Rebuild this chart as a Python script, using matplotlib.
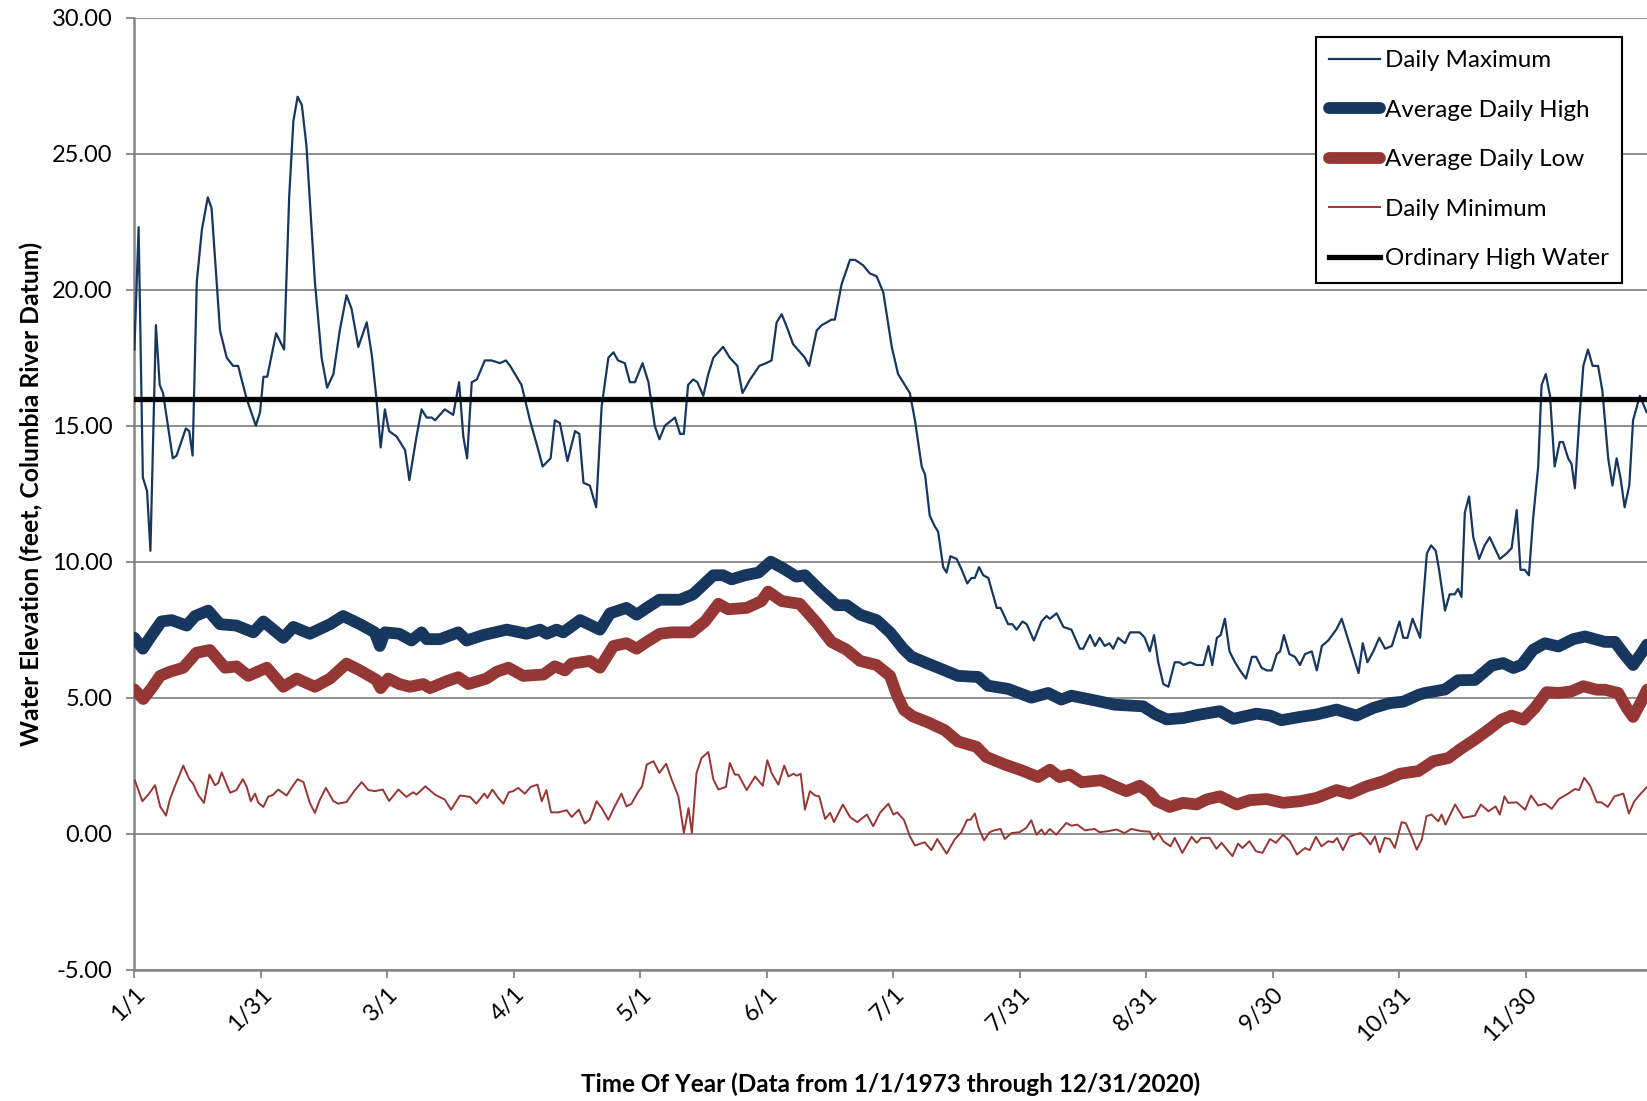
import numpy as np
import matplotlib
matplotlib.use("Agg")
import matplotlib.pyplot as plt

plt.rcParams['font.family'] = ['Lato', 'DejaVu Sans']

# day of year (0 = 1/1) and water elevation
max_days = [0, 1, 2, 3, 3.8, 5.1, 6, 6.8, 9.1, 10, 12.2, 13, 13.8, 14.8, 16, 17.4, 18.3, 20.3, 21.9, 23.4,
            24.6, 26.6, 28.8, 29.8, 30.6, 31.5, 33.6, 35.5, 36.7, 37.7, 38.7, 39.7, 40.8, 42.8, 44.4, 45.7, 47.2, 48.7, 50.3, 51.5,
            53.1, 55.1, 56.3, 57.4, 58.4, 59.4, 60.4, 62.2, 64.2, 65.2, 66.9, 68.1, 69.3, 70.5, 71.3, 73.6, 75.6, 77, 78, 78.9,
            80, 81.2, 83.1, 84.7, 86.7, 88.1, 89.1, 91.8, 93.8, 95.8, 96.8, 98.7, 99.7, 100.9, 102.7, 104.5, 105.5, 106.5, 108, 109.5,
            110.8, 112.4, 113.6, 114.7, 116.3, 117.5, 118.7, 120.5, 121.9, 123.4, 124.5, 125.8, 128.2, 129.4, 130.3, 131.3, 132.5, 133.5, 134.9, 136.1,
            137.3, 139.6, 141.2, 143, 144.2, 146, 148.2, 149.8, 151.1, 152.3, 153.5, 154.8, 156.2, 159, 160, 161.8, 163, 164.2, 165.3, 166.1,
            167.7, 169.7, 170.9, 172.8, 174.4, 176, 177.6, 179.6, 181.1, 182.7, 183.9, 185.1, 186.7, 187.5, 188.6, 189.8, 190.6, 191.8, 192.6, 193.5,
            195, 196.2, 197.5, 198.5, 199.3, 200.3, 201.3, 202.5, 204.5, 205.4, 207.2, 208.2, 209.2, 210.6, 211.6, 213.3, 215.1, 216.3, 217.1, 218.7,
            220.3, 222.2, 224.2, 225, 226.6, 227.8, 228.9, 230.1, 231.2, 232.1, 233.3, 234.9, 236.1, 238.4, 239.6, 240.8, 241.8, 242.8, 244, 245.2,
            246.7, 247.8, 248.8, 250.3, 251.9, 253.5, 254.7, 255.6, 256.7, 257.6, 258.6, 259.7, 261, 262.2, 263.6, 265, 266, 267.3, 268.5, 269.7,
            270.9, 271.7, 272.6, 273.9, 275.2, 276.4, 277.6, 279.2, 280.4, 281.6, 283.1, 285, 286.3, 287.5, 288.7, 290.3, 291.3, 292.4, 293.8, 295.2,
            296.6, 298.2, 300, 300.9, 301.9, 303.1, 304.9, 306.5, 307.5, 308.6, 309.4, 310.8, 311.9, 313.1, 313.9, 314.7, 315.5, 316.5, 317.5, 318.9,
            320.2, 321.4, 322.6, 323.8, 325.4, 326.6, 327.8, 328.7, 329.7, 330.7, 331.7, 332.9, 333.7, 334.7, 335.7, 336.8, 338, 338.8, 340, 340.8,
            341.6, 342.6, 343.6, 344.7, 345.8, 347.1, 348.1, 349.5, 350.5, 351.5, 352.4, 353.4, 354.5, 355.4, 357, 358.6]
max_vals = [17.8, 22.3, 13.1, 12.6, 10.4, 18.7, 16.5, 16.2, 13.8, 13.9, 14.9, 14.8, 13.9, 20.3, 22.2, 23.4, 23.0, 18.5, 17.5, 17.2,
            17.2, 16.0, 15.0, 15.5, 16.8, 16.8, 18.4, 17.8, 23.4, 26.2, 27.1, 26.8, 25.3, 20.3, 17.5, 16.4, 16.9, 18.5, 19.8, 19.3,
            17.9, 18.8, 17.6, 16.0, 14.2, 15.6, 14.8, 14.6, 14.1, 13.0, 14.6, 15.6, 15.3, 15.3, 15.2, 15.6, 15.4, 16.6, 14.6, 13.8,
            16.6, 16.7, 17.4, 17.4, 17.3, 17.4, 17.2, 16.5, 15.2, 14.1, 13.5, 13.8, 15.2, 15.1, 13.7, 14.8, 14.7, 12.9, 12.8, 12.0,
            15.7, 17.5, 17.7, 17.4, 17.3, 16.6, 16.6, 17.3, 16.6, 15.0, 14.5, 15.0, 15.3, 14.7, 14.7, 16.5, 16.7, 16.6, 16.1, 16.9,
            17.5, 17.9, 17.5, 17.2, 16.2, 16.7, 17.2, 17.3, 17.4, 18.8, 19.1, 18.6, 18.0, 17.5, 17.2, 18.5, 18.7, 18.8, 18.9, 18.9,
            20.2, 21.1, 21.1, 20.9, 20.6, 20.5, 19.9, 17.9, 16.9, 16.5, 16.2, 15.2, 13.5, 13.2, 11.7, 11.3, 11.1, 9.8, 9.6, 10.2,
            10.1, 9.7, 9.2, 9.4, 9.4, 9.8, 9.5, 9.4, 8.3, 8.3, 7.7, 7.7, 7.5, 7.8, 7.7, 7.1, 7.8, 8.0, 7.9, 8.1,
            7.6, 7.5, 6.8, 6.8, 7.3, 6.9, 7.2, 6.9, 7.0, 6.8, 7.2, 7.0, 7.4, 7.4, 7.2, 6.7, 7.3, 6.3, 5.5, 5.4,
            6.3, 6.3, 6.2, 6.3, 6.2, 6.2, 6.9, 6.2, 7.2, 7.3, 7.9, 6.7, 6.3, 6.0, 5.7, 6.5, 6.5, 6.1, 6.0, 6.0,
            6.6, 6.7, 7.3, 6.6, 6.5, 6.2, 6.6, 6.7, 6.0, 6.9, 7.1, 7.5, 7.9, 7.3, 6.7, 5.9, 7.0, 6.3, 6.7, 7.2,
            6.8, 6.9, 7.8, 7.2, 7.2, 7.9, 7.2, 10.3, 10.6, 10.4, 9.7, 8.2, 8.8, 8.8, 9.0, 8.7, 11.8, 12.4, 10.9, 10.1,
            10.6, 10.9, 10.5, 10.1, 10.3, 10.5, 11.9, 9.7, 9.7, 9.5, 11.6, 13.5, 16.5, 16.9, 16.1, 13.5, 14.4, 14.4, 13.8, 13.6,
            12.7, 15.1, 17.2, 17.8, 17.2, 17.2, 16.3, 13.8, 12.8, 13.8, 13.1, 12.0, 12.8, 15.2, 16.1, 15.5]

high_days = [0, 2, 3.7, 6.4, 8.8, 12.4, 14.4, 17.5, 20.3, 24.2, 28.2, 30.6, 35.3, 37.7, 41.6, 46.4, 49.5, 53.5, 57, 58.2,
             59.4, 62.8, 65.7, 68.1, 69.3, 72.5, 76.8, 78.8, 82.7, 88.3, 93, 96.2, 97.8, 100.1, 101.7, 105.7, 110.4, 112.8, 116.7, 119.1,
             121.5, 124.5, 129.4, 132.5, 137.3, 139.6, 141.6, 144.8, 148, 150.9, 153.9, 157, 159, 162.6, 166.5, 168.9, 172.1, 176, 179.2, 182.3,
             184.3, 188.2, 191.4, 195.3, 200.1, 202.4, 207.2, 212.7, 216.7, 219.8, 222.2, 227.7, 232.5, 239.2, 242, 244.8, 248.7, 252.7, 257.4, 260.6,
             266.1, 269.3, 272, 276.4, 280.3, 285.1, 289.8, 293.8, 297.7, 300.9, 304.5, 306, 310.8, 313.9, 317.9, 321.9, 324.6, 327, 329, 331.7,
             334.5, 337.7, 341.2, 344, 348.7, 351.1, 353.5, 355.4, 357.4, 358.7]
high_vals = [7.2, 6.8, 7.2, 7.8, 7.85, 7.65, 8.0, 8.2, 7.7, 7.65, 7.4, 7.8, 7.2, 7.6, 7.35, 7.7, 8.0, 7.7, 7.4, 6.9,
             7.4, 7.35, 7.1, 7.4, 7.15, 7.15, 7.4, 7.1, 7.3, 7.5, 7.35, 7.5, 7.35, 7.5, 7.4, 7.85, 7.5, 8.1, 8.3, 8.05,
             8.3, 8.6, 8.6, 8.8, 9.5, 9.5, 9.35, 9.5, 9.6, 10.0, 9.75, 9.45, 9.5, 8.95, 8.4, 8.4, 8.05, 7.85, 7.4, 6.8,
             6.5, 6.25, 6.05, 5.8, 5.76, 5.44, 5.32, 5.0, 5.17, 4.93, 5.07, 4.9, 4.74, 4.68, 4.4, 4.2, 4.25, 4.38, 4.5, 4.22,
             4.41, 4.34, 4.17, 4.29, 4.38, 4.56, 4.34, 4.62, 4.8, 4.85, 5.1, 5.17, 5.3, 5.64, 5.65, 6.18, 6.27, 6.09, 6.21, 6.76,
             7.0, 6.88, 7.15, 7.25, 7.05, 7.05, 6.55, 6.2, 6.64, 6.95]

low_days = [0, 2.1, 4.1, 6.1, 8.4, 11.6, 14.7, 17.9, 21.5, 24.2, 27, 31.4, 35.3, 38.5, 42.8, 46.4, 50.3, 53.5, 57.4, 58.4,
            60.2, 62.8, 65.3, 68.5, 70.1, 74, 76.8, 79.2, 83.5, 85.9, 88.7, 92.2, 97, 99.7, 102.1, 103.7, 108, 110.4, 113.6, 116.7,
            119.1, 121.5, 124.6, 127.4, 132.1, 135.3, 138.5, 140.8, 145.2, 148.7, 150.3, 153.5, 157.8, 161.8, 165.3, 168.9, 172.1, 176, 179.2, 180.8,
            182.5, 184.6, 188.2, 192.2, 195.3, 199.7, 202, 206.4, 210.3, 214.3, 217.1, 219.4, 221.8, 224.6, 229.3, 232.5, 235.2, 238.4, 240.8, 242.4,
            245.5, 248.7, 251.9, 254.2, 257.4, 261.4, 264.5, 268.5, 272.4, 276.4, 280.3, 285.1, 288.2, 292.2, 296.1, 300.1, 304.5, 308, 311.6, 314.3,
            317.9, 321.1, 324.2, 326.6, 329.4, 332.1, 334.9, 337.7, 340.8, 343.6, 346.8, 348.7, 351.9, 353.9, 355.4, 357.4, 358.7]
low_vals = [5.3, 4.95, 5.35, 5.8, 5.95, 6.1, 6.65, 6.75, 6.1, 6.15, 5.8, 6.1, 5.4, 5.7, 5.4, 5.7, 6.25, 6.0, 5.65, 5.35,
            5.7, 5.5, 5.4, 5.5, 5.35, 5.6, 5.75, 5.5, 5.7, 5.95, 6.1, 5.8, 5.85, 6.15, 6.0, 6.25, 6.35, 6.1, 6.9, 7.0,
            6.8, 7.05, 7.35, 7.4, 7.4, 7.8, 8.45, 8.25, 8.3, 8.55, 8.9, 8.55, 8.45, 7.75, 7.05, 6.76, 6.35, 6.2, 5.8, 5.1,
            4.55, 4.31, 4.09, 3.8, 3.39, 3.19, 2.82, 2.54, 2.33, 2.08, 2.35, 2.08, 2.17, 1.89, 1.96, 1.74, 1.56, 1.76, 1.5, 1.2,
            0.98, 1.13, 1.07, 1.25, 1.37, 1.07, 1.23, 1.27, 1.13, 1.19, 1.31, 1.6, 1.47, 1.74, 1.92, 2.2, 2.3, 2.66, 2.78, 3.09,
            3.46, 3.82, 4.19, 4.34, 4.19, 4.62, 5.2, 5.17, 5.23, 5.42, 5.29, 5.29, 5.17, 4.62, 4.29, 4.87, 5.29]

min_days = [0.1, 1.9, 3.3, 4.9, 6.1, 7.5, 8.4, 9.6, 11.6, 13, 13.9, 15.1, 16.5, 17.8, 19.1, 19.9, 20.7, 22.7, 24.2, 25.7,
            26.6, 27.6, 28.6, 29.4, 30.6, 31.7, 32.9, 34.1, 36.1, 37.5, 38.7, 40.1, 41.6, 42.8, 44, 45.4, 47.2, 48.4, 50.3, 52.1,
            53.9, 55.5, 57, 58.9, 60.4, 62.6, 64.5, 66.1, 66.9, 69, 71.3, 73.6, 75.1, 77.2, 79.6, 81.1, 83, 83.7, 84.9, 86.3,
            87.5, 88.8, 89.8, 91, 92.6, 94, 95.6, 96.6, 97.7, 98.8, 100.5, 102.5, 103.7, 105.4, 106.8, 108, 109.6, 110.8, 112.4, 113.9,
            115.5, 116.7, 117.9, 119.3, 120.4, 121.5, 123.1, 124.5, 126.1, 127.4, 129, 130.3, 131.4, 132.2, 133.3, 134.5, 136.1, 137.3, 138.5, 140.3,
            141.2, 142.4, 143.2, 145.2, 147.2, 149, 150.1, 151.1, 152.7, 154.1, 155.1, 156.3, 157.1, 158, 159, 160.2, 161.4, 162.4, 163.8, 165,
            165.9, 168, 169.7, 171.4, 173.7, 175.2, 176.8, 178.8, 180, 180.9, 182.5, 183.9, 185.1, 187.4, 189, 190.4, 192.6, 194.5, 196.1, 197.5,
            198.3, 199.3, 200.2, 201.5, 202.8, 203.9, 205.4, 206.4, 208, 209.9, 211.5, 212.7, 213.9, 215.1, 215.9, 217.1, 218.6, 221, 222.2, 223.6,
            225.4, 227.7, 228.9, 230.9, 232.9, 234.8, 236.4, 238.8, 240.8, 241.7, 242.8, 244, 245.7, 246.7, 248.5, 250.7, 251.9, 253, 255, 256.6,
            257.8, 260.4, 261.7, 262.8, 264.4, 266, 267.5, 269.3, 270.7, 272.4, 274, 275.7, 277.6, 278.7, 280.2, 281.5, 283.1, 284.3, 285.2, 286.6,
            288.1, 289.4, 290.8, 292.2, 293.1, 294.2, 295.3, 296.5, 297.7, 298.9, 300.5, 301.5, 302.6, 304.1, 305.3, 306.4, 307.6, 309.2, 310, 310.9,
            313.2, 315.1, 317.9, 319.3, 321.1, 322.8, 323.8, 324.9, 325.8, 327.8, 329.8, 331.2, 332.9, 334.5, 336.1, 337.8, 340, 341.6, 342.6, 343.8,
            345.2, 346.8, 347.9, 349.4, 351, 353.1, 354.4, 355.7, 357, 358.7]
min_vals = [1.96, 1.19, 1.43, 1.78, 1.0, 0.66, 1.25, 1.74, 2.5, 2.0, 1.84, 1.43, 1.13, 2.17, 1.78, 1.86, 2.25, 1.5, 1.6, 2.0,
            1.74, 1.19, 1.47, 1.13, 0.98, 1.35, 1.43, 1.62, 1.4, 1.74, 2.0, 1.89, 1.13, 0.76, 1.25, 1.68, 1.19, 1.1, 1.16, 1.56,
            1.89, 1.6, 1.56, 1.62, 1.2, 1.62, 1.35, 1.52, 1.43, 1.74, 1.43, 1.25, 0.88, 1.4, 1.35, 1.1, 1.47, 1.31, 1.62, 1.31,
            1.1, 1.52, 1.56, 1.68, 1.47, 1.72, 1.8, 1.19, 1.6, 0.78, 0.78, 0.86, 0.61, 0.88, 0.37, 0.51, 1.19, 0.94, 0.51, 1.0,
            1.47, 1.0, 1.1, 1.5, 1.74, 2.54, 2.66, 2.23, 2.57, 1.99, 1.37, 0.02, 0.94, 0.02, 2.23, 2.78, 3.0, 1.99, 1.62, 1.72,
            2.6, 2.17, 2.17, 1.6, 2.1, 1.76, 2.7, 2.23, 1.8, 2.5, 2.1, 2.2, 2.13, 2.2, 0.88, 1.56, 1.4, 1.37, 0.54, 0.76,
            0.42, 1.07, 0.61, 0.42, 0.7, 0.27, 0.76, 1.1, 0.7, 0.78, 0.5, -0.1, -0.44, -0.32, -0.61, -0.2, -0.74, -0.22, 0.05, 0.51,
            0.51, 0.74, 0.21, -0.25, 0.05, 0.12, 0.17, -0.2, 0.02, 0.05, 0.21, 0.49, -0.04, 0.15, -0.04, 0.17, -0.04, 0.39, 0.29, 0.33,
            0.12, 0.17, 0.05, 0.09, 0.15, 0.02, 0.17, 0.09, 0.07, -0.22, 0.02, -0.28, -0.47, -0.16, -0.71, -0.12, -0.34, -0.16, -0.16, -0.56,
            -0.34, -0.83, -0.37, -0.53, -0.28, -0.65, -0.71, -0.2, -0.34, -0.04, -0.28, -0.77, -0.53, -0.61, -0.12, -0.47, -0.28, -0.32, -0.16, -0.61,
            -0.12, -0.04, 0.02, -0.2, -0.4, -0.1, -0.69, -0.16, -0.2, -0.53, 0.42, 0.38, 0.0, -0.59, -0.22, 0.64, 0.7, 0.45, 0.7, 0.33,
            1.07, 0.58, 0.66, 1.07, 0.82, 1.0, 0.7, 1.37, 1.13, 1.15, 0.88, 1.4, 1.03, 1.1, 0.91, 1.27, 1.47, 1.64, 1.6, 2.05,
            1.76, 1.15, 1.15, 0.98, 1.37, 1.47, 0.74, 1.19, 1.43, 1.72]

ohw = 16.0

tick_days = [0, 30, 60, 90, 120, 150, 180, 210, 240, 270, 300, 330]
tick_labels = ['1/1', '1/31', '3/1', '4/1', '5/1', '6/1', '7/1', '7/31', '8/31', '9/30', '10/31', '11/30']

navy = '#17375e'
red = '#953735'
grid_grey = '#868686'

fig = plt.figure(figsize=(16.47, 11.01), dpi=100)
ax = fig.add_axes([0.0816, 0.1194, 0.9184, 0.8644])

ax.plot(max_days, max_vals, color=navy, lw=1.6, label='Daily Maximum', zorder=3)
ax.plot(high_days, high_vals, color=navy, lw=8.5, solid_capstyle='round', solid_joinstyle='round',
        label='Average Daily High', zorder=4)
ax.plot(low_days, low_vals, color=red, lw=8.5, solid_capstyle='round', solid_joinstyle='round',
        label='Average Daily Low', zorder=4)
ax.plot(min_days, min_vals, color=red, lw=1.4, label='Daily Minimum', zorder=3)
ax.axhline(ohw, color='black', lw=3.8, label='Ordinary High Water', zorder=5)

ax.set_xlim(0, 358.7)
ax.set_ylim(-5, 30)
ax.set_yticks(np.arange(-5, 31, 5))
ax.set_yticklabels([f'{v:.2f}' for v in np.arange(-5, 31, 5)], fontsize=17)
ax.set_xticks(tick_days)
ax.set_xticklabels(tick_labels, fontsize=17, rotation=45, ha='right', va='top', rotation_mode='anchor')

ax.grid(axis='y', color=grid_grey, lw=1.3)
ax.set_axisbelow(True)
for s in ['top', 'right']:
    ax.spines[s].set_visible(False)
for s in ['left', 'bottom']:
    ax.spines[s].set_color(grid_grey)
    ax.spines[s].set_linewidth(1.8)
ax.tick_params(axis='y', colors=grid_grey, labelcolor='black', length=6, width=1.3, pad=10)
ax.tick_params(axis='x', colors=grid_grey, labelcolor='black', length=6, width=1.3, pad=4)

ax.set_ylabel('Water Elevation (feet, Columbia River Datum)', fontsize=17.8, fontweight='bold', labelpad=6)
ax.set_xlabel('Time Of Year (Data from 1/1/1973 through 12/31/2020)', fontsize=17.5, fontweight='bold', labelpad=20)

leg = ax.legend(loc='upper right', bbox_to_anchor=(0.985, 0.9665), bbox_transform=fig.transFigure,
                fontsize=17.4, frameon=True, fancybox=False, edgecolor='black', framealpha=1,
                handlelength=2.1, handletextpad=0.2, labelspacing=1.18, borderpad=0.55, borderaxespad=0)
leg.get_frame().set_linewidth(1.5)

fig.savefig('out.png', dpi=100)
